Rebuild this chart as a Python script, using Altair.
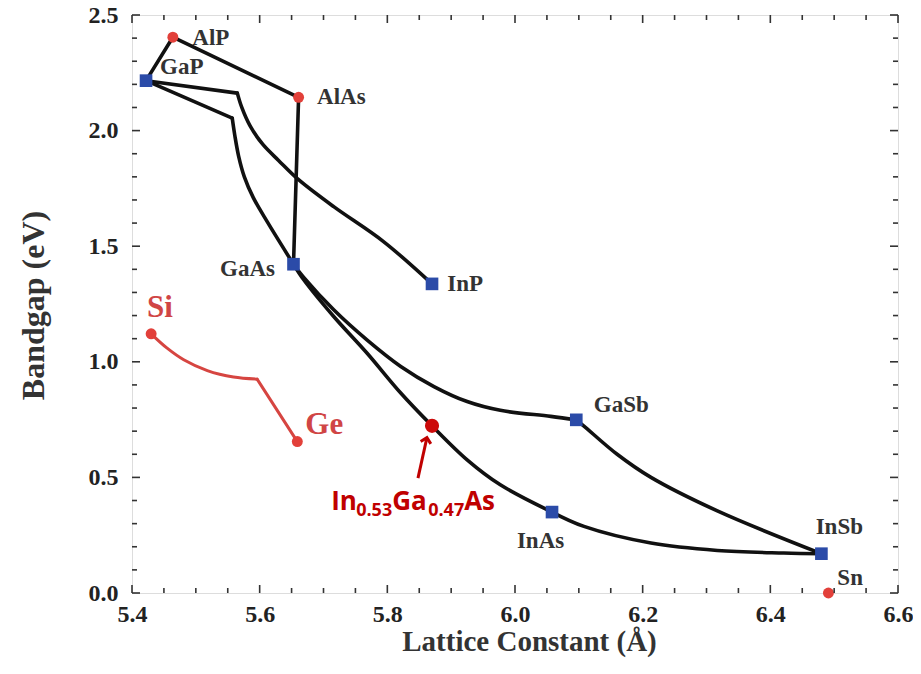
import altair as alt
import pandas as pd

# ---------------- data ----------------
# binary compounds (blue squares)
sq_names = ["GaP", "GaAs", "InP", "GaSb", "InAs", "InSb"]
sq_a = [5.422, 5.653, 5.870, 6.096, 6.058, 6.480]
sq_eg = [2.216, 1.422, 1.337, 0.749, 0.350, 0.170]

# elements / Al compounds (red circles)
circ_names = ["AlP", "AlAs", "Sn", "Si", "Ge"]
circ_a = [5.464, 5.661, 6.491, 5.430, 5.659]
circ_eg = [2.404, 2.144, 0.000, 1.121, 0.655]

# In0.53Ga0.47As point
ingaas_a = [5.870]
ingaas_eg = [0.723]

# straight black tie lines
straight_a = [[5.422, 5.464], [5.464, 5.661], [5.661, 5.653], [5.422, 5.565], [5.422, 5.557]]
straight_eg = [[2.216, 2.404], [2.404, 2.144], [2.144, 1.422], [2.216, 2.162], [2.216, 2.054]]

# curved black tie lines
gap_inp_a = [5.565, 5.572, 5.585, 5.605, 5.630, 5.660, 5.716, 5.794, 5.870]
gap_inp_eg = [2.162, 2.100, 2.020, 1.940, 1.870, 1.790, 1.671, 1.520, 1.337]
gap_gaas_a = [5.557, 5.561, 5.567, 5.576, 5.590, 5.612, 5.653]
gap_gaas_eg = [2.054, 1.980, 1.890, 1.800, 1.710, 1.605, 1.422]
gaas_inas_a = [5.653, 5.669, 5.716, 5.768, 5.821, 5.870, 5.925, 5.977, 6.058]
gaas_inas_eg = [1.422, 1.355, 1.196, 1.038, 0.865, 0.723, 0.576, 0.468, 0.350]
gaas_gasb_a = [5.653, 5.669, 5.716, 5.768, 5.821, 5.873, 5.925, 5.977, 6.056, 6.096]
gaas_gasb_eg = [1.422, 1.365, 1.225, 1.095, 0.980, 0.893, 0.828, 0.790, 0.764, 0.749]
gasb_insb_a = [6.096, 6.108, 6.160, 6.213, 6.317, 6.480]
gasb_insb_eg = [0.749, 0.722, 0.600, 0.500, 0.355, 0.170]
inas_insb_a = [6.058, 6.108, 6.213, 6.317, 6.421, 6.480]
inas_insb_eg = [0.350, 0.288, 0.216, 0.184, 0.173, 0.170]

# Si-Ge line (red)
sige_curve_a = [5.430, 5.455, 5.481, 5.518, 5.559, 5.596]
sige_curve_eg = [1.121, 1.059, 1.009, 0.962, 0.934, 0.925]
sige_straight_a = [5.596, 5.659]
sige_straight_eg = [0.925, 0.655]

# arrow (tail -> head)
arrow_a = [5.848, 5.862]
arrow_eg = [0.497, 0.672]

# text labels (left / baseline anchored)
black_lbl = ["AlP", "GaP", "AlAs", "GaAs", "InP", "GaSb", "InAs", "InSb", "Sn"]
black_lbl_a = [5.4945, 5.444, 5.690, 5.538, 5.894, 6.1235, 6.003, 6.471, 6.505]
black_lbl_eg = [2.370, 2.245, 2.114, 1.369, 1.307, 0.781, 0.195, 0.256, 0.036]
red_lbl = ["Si", "Ge"]
red_lbl_a = [5.4235, 5.6716]
red_lbl_eg = [1.193, 0.689]
ingaas_lbl_a = 5.712
ingaas_lbl_eg = 0.357

x_major = [5.4, 5.6, 5.8, 6.0, 6.2, 6.4, 6.6]
y_major = [0.0, 0.5, 1.0, 1.5, 2.0, 2.5]
x_minor = [round(5.4 + 0.05 * i, 2) for i in range(25) if i % 4 != 0]
y_minor = [round(0.1 * i, 1) for i in range(26) if i % 5 != 0]

W, H = 766, 578
X0, X1, Y0, Y1 = 5.4, 6.6, 0.0, 2.5

# ---------------- tables ----------------
def seg_table(xs, ys):
    rows = []
    for s, (xa, ya) in enumerate(zip(xs, ys)):
        for i, (a, e) in enumerate(zip(xa, ya)):
            rows.append({"seg": s, "i": i, "a": a, "eg": e})
    return pd.DataFrame(rows)

df_straight = seg_table(straight_a, straight_eg)
df_curves = seg_table(
    [gap_inp_a, gap_gaas_a, gaas_inas_a, gaas_gasb_a, gasb_insb_a, inas_insb_a],
    [gap_inp_eg, gap_gaas_eg, gaas_inas_eg, gaas_gasb_eg, gasb_insb_eg, inas_insb_eg],
)
df_sige_c = seg_table([sige_curve_a], [sige_curve_eg])
df_sige_s = seg_table([sige_straight_a], [sige_straight_eg])
df_arrow = seg_table([arrow_a], [arrow_eg])
df_head = pd.DataFrame({"a": [arrow_a[1]], "eg": [arrow_eg[1]]})
df_sq = pd.DataFrame({"name": sq_names, "a": sq_a, "eg": sq_eg})
df_circ = pd.DataFrame({"name": circ_names, "a": circ_a, "eg": circ_eg})
df_ingaas = pd.DataFrame({"a": ingaas_a, "eg": ingaas_eg})
df_blbl = pd.DataFrame({"t": black_lbl, "a": black_lbl_a, "eg": black_lbl_eg})
df_rlbl = pd.DataFrame({"t": red_lbl, "a": red_lbl_a, "eg": red_lbl_eg})
df_ilbl = pd.DataFrame({"a": [ingaas_lbl_a], "eg": [ingaas_lbl_eg]})

# tick anchor points on the frame; symbol size = (tick length in px)^2
MAJ, MIN = 8 ** 2, 5 ** 2
df_tick_bottom = pd.DataFrame({"a": x_major + x_minor, "eg": Y0,
                               "sz": [MAJ] * len(x_major) + [MIN] * len(x_minor)})
df_tick_top = df_tick_bottom.assign(eg=Y1)
df_tick_left = pd.DataFrame({"eg": y_major + y_minor, "a": X0,
                             "sz": [MAJ] * len(y_major) + [MIN] * len(y_minor)})
df_tick_right = df_tick_left.assign(a=X1)

xs = alt.Scale(domain=[X0, X1], nice=False, zero=False)
ys = alt.Scale(domain=[Y0, Y1], nice=False, zero=False)

SERIF = "Liberation Serif"

x_main = alt.Axis(orient="bottom", values=x_major, format=".1f", ticks=False,
                  domain=False, grid=False, labelFlush=False,
                  labelFont=SERIF, labelFontWeight="bold", labelFontSize=24,
                  labelColor="#222", labelPadding=9,
                  title="Lattice Constant (Å)", titleFont=SERIF,
                  titleFontWeight="bold", titleFontSize=29, titleColor="#333",
                  titleX=397, titleY=57, titleAlign="center",
                  titleBaseline="alphabetic")
y_main = alt.Axis(orient="left", values=y_major, format=".1f", ticks=False,
                  domain=False, grid=False,
                  labelFont=SERIF, labelFontWeight="bold", labelFontSize=24,
                  labelColor="#222", labelPadding=14,
                  title="Bandgap (eV)", titleFont=SERIF, titleFontWeight="bold",
                  titleFontSize=32, titleColor="#333", titleAngle=270,
                  titleX=-89, titleY=290, titleAlign="center",
                  titleBaseline="alphabetic")

X = alt.X("a:Q", scale=xs, axis=x_main)
Y = alt.Y("eg:Q", scale=ys, axis=y_main)


def enc():
    return dict(x=X, y=Y)


def tick_layer(df, path):
    return alt.Chart(df).mark_point(
        shape=path, filled=False, color="#333", strokeWidth=1.6, opacity=1
    ).encode(**enc(), size=alt.Size("sz:Q", scale=None, legend=None))


ticks = [
    tick_layer(df_tick_bottom, "M 0 0 L 0 -2"),
    tick_layer(df_tick_top, "M 0 0 L 0 2"),
    tick_layer(df_tick_left, "M 0 0 L 2 0"),
    tick_layer(df_tick_right, "M 0 0 L -2 0"),
]

straight = alt.Chart(df_straight).mark_line(
    color="#111", strokeWidth=3.6, strokeCap="round", strokeJoin="round"
).encode(**enc(), detail="seg:N", order="i:Q")

curves = alt.Chart(df_curves).mark_line(
    color="#111", strokeWidth=3.6, interpolate="catmull-rom", strokeCap="round"
).encode(**enc(), detail="seg:N", order="i:Q")

sige_c = alt.Chart(df_sige_c).mark_line(
    color="#d64541", strokeWidth=3, interpolate="catmull-rom", strokeCap="round"
).encode(**enc(), order="i:Q")

sige_s = alt.Chart(df_sige_s).mark_line(
    color="#d64541", strokeWidth=3, strokeCap="round"
).encode(**enc(), order="i:Q")

squares = alt.Chart(df_sq).mark_point(
    shape="square", filled=True, size=160, color="#2b4ba8", opacity=1
).encode(**enc())

circles = alt.Chart(df_circ).mark_point(
    shape="circle", filled=True, size=120, color="#e2403a", opacity=1
).encode(**enc())

ingaas = alt.Chart(df_ingaas).mark_point(
    shape="circle", filled=True, size=200, color="#cc0a0a", opacity=1
).encode(**enc())

arrow = alt.Chart(df_arrow).mark_line(
    color="#c00000", strokeWidth=3
).encode(**enc(), order="i:Q")

head = alt.Chart(df_head).mark_point(
    shape="M -0.8 0.8 L 0 0 L 0.8 0.8", filled=False, size=170,
    color="#c00000", strokeWidth=3, opacity=1, angle=13
).encode(**enc())

blbl = alt.Chart(df_blbl).mark_text(
    font=SERIF, fontWeight="bold", fontSize=23, color="#333",
    align="left", baseline="alphabetic"
).encode(**enc(), text="t:N")

rlbl = alt.Chart(df_rlbl).mark_text(
    font=SERIF, fontWeight="bold", fontSize=31, color="#d04545",
    align="left", baseline="alphabetic"
).encode(**enc(), text="t:N")

pieces = [("In", 0, 26, 0), ("0.53", 25, 18, 6), ("Ga", 61, 26, 0),
          ("0.47", 97, 18, 6), ("As", 133, 26, 0)]
ilbl_layers = [
    alt.Chart(df_ilbl).mark_text(
        text=t, dx=dx, dy=dy, fontSize=fs, font="Open Sans", fontWeight="bold",
        color="#c00000", align="left", baseline="alphabetic"
    ).encode(**enc())
    for (t, dx, fs, dy) in pieces
]

chart = alt.layer(
    straight, curves, sige_c, sige_s, arrow, squares, circles,
    ingaas, head, blbl, rlbl, *ilbl_layers, *ticks
).properties(
    width=W, height=H,
    autosize=alt.AutoSizeParams(type="none"),
    padding={"left": 124, "top": 7, "right": 15, "bottom": 73},
).configure_view(stroke="#333", strokeWidth=1.6).configure(background="white")

chart.save("out.html", embed_options={"renderer": "svg", "actions": False})
